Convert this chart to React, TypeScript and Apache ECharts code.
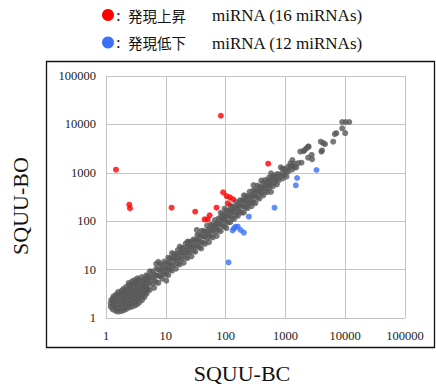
import React, { useEffect, useRef } from "react";
import * as echarts from "echarts";

const xTickLabels = ["1", "10", "100", "1000", "10000", "100000"];
const yTickLabels = ["1", "10", "100", "1000", "10000", "100000"];

// 発現上昇 miRNA (red)
const upregulated: [number, number][] = [
  [1.47, 1159], [2.45, 219], [2.52, 185], [12.5, 190], [31, 157], [44.5, 109],
  [50, 109], [54, 132], [70.6, 190], [83.4, 15100], [91, 395], [104, 331],
  [118, 311], [134, 283], [109, 234], [515, 1543],
];

// 発現低下 miRNA (blue)
const downregulated: [number, number][] = [
  [3311, 1143], [1570, 781], [1493, 551], [658, 190], [245, 124], [131, 64.7],
  [139, 71], [147, 77], [160, 77], [178, 65.8], [202, 58], [112, 14.1],
];

// other miRNAs (grey): dense low-expression cluster
const othersLow: [number, number][] = [
  [1.2, 1.7], [1.2, 2.0], [1.22, 2.35],
  [1.3, 1.5], [1.3, 1.8], [1.32, 2.1], [1.3, 2.5], [1.33, 2.8],
  [1.45, 1.4], [1.43, 1.65], [1.46, 1.95], [1.44, 2.3], [1.45, 2.7], [1.47, 3.05],
  [1.6, 1.35], [1.6, 1.6], [1.62, 1.9], [1.58, 2.25], [1.6, 2.65], [1.63, 3.1], [1.6, 3.45],
  [1.8, 1.38], [1.78, 1.65], [1.8, 1.95], [1.82, 2.3], [1.8, 2.7], [1.79, 3.2], [1.83, 3.7],
  [2.0, 1.45], [2.02, 1.7], [1.98, 2.0], [2.0, 2.4], [2.03, 2.85], [2.0, 3.4], [1.97, 4.0],
  [2.2, 1.55], [2.22, 1.85], [2.18, 2.2], [2.2, 2.6], [2.23, 3.1], [2.2, 3.7], [2.17, 4.4],
  [2.45, 1.65], [2.43, 1.95], [2.47, 2.3], [2.45, 2.75], [2.42, 3.3], [2.46, 3.9], [2.44, 4.7], [2.4, 5.3],
  [2.7, 1.72], [2.72, 2.05], [2.68, 2.45], [2.7, 2.9], [2.73, 3.5], [2.7, 4.2], [2.66, 5.0], [2.75, 5.8],
  [3.0, 1.8], [3.03, 2.15], [2.98, 2.6], [3.0, 3.1], [3.04, 3.7], [3.0, 4.4], [2.97, 5.3], [3.05, 6.1],
  [3.3, 1.9], [3.32, 2.3], [3.28, 2.8], [3.3, 3.3], [3.34, 4.0], [3.3, 4.8], [3.27, 5.7], [3.35, 6.6],
  [3.6, 2.1], [3.63, 2.5], [3.58, 3.0], [3.6, 3.6], [3.64, 4.3], [3.6, 5.2], [3.57, 6.2],
  [4.0, 2.35], [4.03, 2.8], [3.98, 3.3], [4.0, 4.0], [4.04, 4.8], [4.0, 5.8], [3.95, 7.0],
  [4.4, 2.7], [4.42, 3.2], [4.38, 3.8], [4.4, 4.6], [4.45, 5.5], [4.4, 6.5],
  [4.8, 3.2], [4.85, 3.8], [4.78, 4.5], [4.8, 5.4], [4.86, 6.4], [4.7, 7.6],
];

// other miRNAs (grey): main diagonal band
const othersBand: [number, number][] = [
  [5.0, 4.0], [5.0, 5.5], [5.0, 7.3],
  [5.4, 3.8], [5.4, 5.4], [5.4, 7.0], [5.4, 9.2],
  [5.9, 5.0], [5.9, 6.8], [5.9, 9.1],
  [6.4, 4.2], [6.4, 6.1], [6.4, 8.0],
  [6.9, 5.5], [6.9, 7.6], [6.9, 10.4], [6.9, 13.1],
  [7.5, 5.3], [7.5, 7.5], [7.5, 10.1], [7.5, 14.5],
  [8.1, 7.3], [8.1, 9.7], [8.1, 13],
  [8.7, 6.5], [8.7, 9.1], [8.7, 12.2],
  [9.4, 8.0], [9.4, 10.8], [9.4, 14.6],
  [10.2, 5.9], [10.2, 8.2], [10.2, 10.2], [10.2, 13.3],
  [11.0, 7.7], [11.0, 10.5], [11.0, 13.8], [11.0, 17.6],
  [11.8, 10], [11.8, 13], [11.8, 17.1],
  [12.7, 9.5], [12.7, 12.7], [12.7, 17.1], [12.7, 22],
  [13.7, 12.3], [13.7, 16.4], [13.7, 21],
  [14.8, 10.4], [14.8, 15.5], [14.8, 20.7],
  [15.9, 13.5], [15.9, 18.3], [15.9, 25.4],
  [17.1, 12.8], [17.1, 17.1], [17.1, 22.2], [17.1, 30],
  [18.5, 16.6], [18.5, 22.2], [18.5, 27.8],
  [19.9, 13.9], [19.9, 20.9], [19.9, 27.9],
  [21.5, 18.3], [21.5, 24.7], [21.5, 34.4],
  [23.1, 17.3], [23.1, 23.1], [23.1, 30], [23.1, 38],
  [24.9, 22.4], [24.9, 29.9], [24.9, 37.4],
  [26.9, 18.8], [26.9, 28.2], [26.9, 37.7],
  [29.0, 24.7], [29.0, 31.9], [29.0, 42],
  [31.2, 23.4], [31.2, 31.2], [31.2, 40.6], [33, 66],
  [33.7, 30.3], [33.7, 40.4], [33.7, 52],
  [36.3, 29], [36.3, 38.1], [36.3, 50.8],
  [39.1, 27.4], [39.1, 37.1], [39.1, 48.9], [39.1, 62.6],
  [42.2, 35.9], [42.2, 48.5], [42.2, 63.3],
  [45.5, 34.1], [45.5, 47.8], [45.5, 61.4],
  [49.0, 44.1], [49.0, 58.8], [49.0, 80.9],
  [52.8, 37], [52.8, 52.8], [52.8, 68.6],
  [56.9, 48.4], [56.9, 65.4], [56.9, 85.4],
  [61.3, 46], [61.3, 64.4], [61.3, 82.8],
  [66.1, 59.5], [66.1, 79.3], [66.1, 106],
  [71.2, 49.8], [71.2, 71.2], [71.2, 92.6],
  [76.7, 65.2], [76.7, 88.2], [76.7, 115],
  [82.7, 62], [82.7, 86.8], [82.7, 116], [82.7, 149],
  [89.1, 80.2], [89.1, 107], [89.1, 138],
  [96.0, 76.8], [96.0, 106], [96.0, 134], [96.0, 182],
  [103, 72.1], [103, 97.9], [103, 129], [103, 165],
  [111, 94.4], [111, 128], [111, 167],
  [120, 96], [120, 126], [120, 162], [120, 210],
  [129, 116], [129, 155], [129, 200],
  [139, 111], [139, 153], [139, 195],
  [150, 135], [150, 188], [150, 248],
  [161, 129], [161, 169], [161, 217],
  [174, 157], [174, 209], [174, 270],
  [187, 150], [187, 206], [187, 271],
  [202, 152], [202, 202], [202, 263], [202, 343],
  [217, 195], [217, 260], [217, 326],
  [234, 187], [234, 246], [234, 328],
  [252, 227], [252, 302], [252, 403],
  [272, 204], [272, 272], [272, 354],
  [293, 249], [293, 337], [293, 440], [293, 557],
  [316, 237], [316, 332], [316, 427],
  [340, 306], [340, 408], [340, 544],
  [367, 294], [367, 404], [367, 514],
  [395, 375], [395, 494], [395, 691],
  [426, 341], [426, 469], [426, 618],
  [459, 413], [459, 551], [459, 711],
  [495, 396], [495, 520], [495, 668],
  [533, 480], [533, 613], [533, 800],
  [575, 403], [575, 575], [575, 748], [575, 978],
  [620, 527], [620, 713], [620, 868],
  [668, 635], [668, 835],
  [720, 576], [720, 756], [720, 936],
  [776, 698], [776, 931],
  [836, 836], [836, 1296],
  [901, 766], [901, 991], [901, 1216],
  [971, 922], [971, 1214],
  [1046, 837], [1046, 1098],
  [1127, 1071], [1127, 1352],
  [1215, 1337], [1215, 1580],
  [1309, 1178], [1309, 1374], [1309, 1833],
  [1410, 1340], [1410, 1551],
  [1520, 1292], [1640, 1591], [1770, 2743],
];

// other miRNAs (grey): high-expression tail
const othersHigh: [number, number][] = [
  [1860, 1620], [2000, 2800], [2100, 2950], [2250, 3200], [2400, 3470],
  [2450, 3470], [2400, 2050], [2750, 2340], [2800, 1900],
  [3900, 4400], [4000, 2750], [4300, 4100], [4600, 3900], [4100, 2900],
  [6300, 4400], [6700, 6300], [7100, 6600], [8900, 8300], [10000, 6600],
  [8900, 11200], [10200, 11200], [11700, 11200],
];

const legendUp = { cjk: "発現上昇", latin: "miRNA (16 miRNAs)" };
const legendDown = { cjk: "発現低下", latin: "miRNA (12 miRNAs)" };

const RED = "#ff0000";
const BLUE = "#3b6ff5";
const GREY = "#595959";
const SERIF = "Liberation Serif";
const CJK = "Noto Sans CJK JP";

function fmt(v: number, labels: string[]) {
  const i = Math.round(Math.log10(v));
  return labels[i] ?? String(Math.round(v));
}

function legendRow(y: number, color: string, cjk: string, latin: string) {
  return [
    { type: "circle", shape: { cx: 108, cy: y, r: 6 }, style: { fill: color } },
    {
      type: "text", x: 116, y: y,
      style: { text: ":", fontSize: 17, fontFamily: SERIF, fill: "#111", verticalAlign: "middle" },
    },
    {
      type: "text", x: 128, y: y,
      style: { text: cjk, fontSize: 14.5, fontFamily: CJK, fill: "#111", verticalAlign: "middle" },
    },
    {
      type: "text", x: 212, y: y + 0.5,
      style: { text: latin, fontSize: 17, fontFamily: SERIF, fill: "#111", verticalAlign: "middle" },
    },
  ];
}

export default function App() {
  const ref = useRef<HTMLDivElement>(null);
  useEffect(() => {
    if (!ref.current) return;
    const chart = echarts.init(ref.current, null, { renderer: "svg" });
    const axisCommon = {
      type: "log",
      logBase: 10,
      min: 1,
      max: 100000,
      axisTick: { show: false },
      axisLine: { show: true, lineStyle: { color: "#c4c4c4", width: 1 } },
      splitLine: { show: true, lineStyle: { color: "#c4c4c4", width: 1 } },
    };
    const others = [...othersLow, ...othersBand, ...othersHigh];
    chart.setOption({
      animation: false,
      grid: { left: 106, right: 31, top: 76, bottom: 72, containLabel: false },
      xAxis: {
        ...axisCommon,
        axisLabel: {
          margin: 11,
          fontFamily: SERIF,
          fontSize: 12.5,
          color: "#222",
          formatter: (v: number) => fmt(v, xTickLabels),
        },
      },
      yAxis: {
        ...axisCommon,
        axisLabel: {
          margin: 10,
          fontFamily: SERIF,
          fontSize: 12.5,
          color: "#222",
          formatter: (v: number) => fmt(v, yTickLabels),
        },
      },
      series: [
        { type: "scatter", data: others, symbolSize: 6, itemStyle: { color: GREY }, z: 2 },
        { type: "scatter", data: downregulated, symbolSize: 6, itemStyle: { color: BLUE }, z: 3 },
        { type: "scatter", data: upregulated, symbolSize: 6, itemStyle: { color: RED }, z: 4 },
      ],
      graphic: [
        {
          type: "rect",
          shape: { x: 46.5, y: 61.5, width: 388, height: 286 },
          style: { fill: "none", stroke: "#111", lineWidth: 1.3 },
          z: -1,
        },
        ...legendRow(15, RED, legendUp.cjk, legendUp.latin),
        ...legendRow(42.5, BLUE, legendDown.cjk, legendDown.latin),
        {
          type: "text",
          x: 20,
          y: 206,
          rotation: Math.PI / 2,
          style: {
            text: "SQUU-BO", fontSize: 22, fontFamily: SERIF, fill: "#111",
            align: "center", verticalAlign: "middle",
          },
        },
        {
          type: "text",
          x: 242,
          y: 373,
          style: {
            text: "SQUU-BC", fontSize: 22, fontFamily: SERIF, fill: "#111",
            align: "center", verticalAlign: "middle",
          },
        },
      ],
    });
    return () => chart.dispose();
  }, []);
  return (
    <div
      ref={ref}
      style={{ position: "absolute", left: 0, top: 0, width: 436, height: 390, background: "#fff" }}
    />
  );
}
